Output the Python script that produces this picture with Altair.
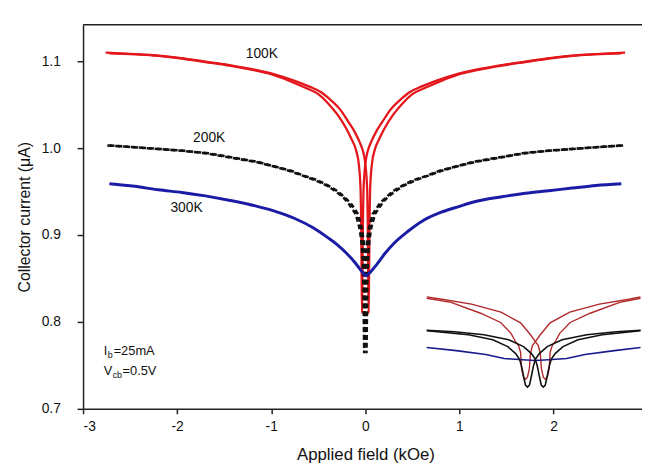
import altair as alt
import pandas as pd

FONT = "Liberation Sans"
RED = "#e3161b"
BLUE = "#1b1ca6"
BLACK = "#111111"

X_TICKS = [-3, -2, -1, 0, 1, 2]
Y_TICKS = [0.7, 0.8, 0.9, 1.0, 1.1]
X_DOMAIN = [-3, 2.94]
Y_DOMAIN = [0.7, 1.142]

# 100K (red) hysteresis loop, sweep down (dip at negative field) and sweep up
RED_DOWN_X = [-2.76, -2.45, -2.2, -1.95, -1.7, -1.45, -1.2, -1.0, -0.8, -0.65, -0.5, -0.4, -0.3, -0.2, -0.15, -0.1, -0.07, -0.05, -0.045, -0.04, -0.035,
              -0.03, -0.025, -0.02, -0.01, 0.0, 0.015, 0.035, 0.065, 0.115, 0.185, 0.265, 0.365, 0.465, 0.6, 0.765, 0.965, 1.165, 1.415, 1.665, 1.915, 2.165, 2.45, 2.72]
RED_DOWN_Y = [1.110, 1.108, 1.106, 1.103, 1.099, 1.095, 1.090, 1.085, 1.077, 1.070, 1.062, 1.052, 1.039, 1.022, 1.011, 0.998, 0.982, 0.950, 0.920, 0.860, 0.810,
              0.860, 0.920, 0.950, 0.970, 0.982, 0.992, 1.000, 1.008, 1.019, 1.031, 1.044, 1.055, 1.064, 1.071, 1.078, 1.085, 1.090, 1.095, 1.099, 1.103, 1.106, 1.108, 1.109]
RED_UP_X = [-2.72, -2.45, -2.165, -1.915, -1.665, -1.415, -1.165, -0.965, -0.765, -0.6, -0.465, -0.365, -0.265, -0.185, -0.115, -0.065, -0.035, -0.015, 0.0, 0.01,
            0.02, 0.025, 0.03, 0.035, 0.04, 0.045, 0.05, 0.07, 0.1, 0.15, 0.2, 0.3, 0.4, 0.5, 0.65, 0.8, 1.0, 1.2, 1.45, 1.7, 1.95, 2.2, 2.45, 2.76]
RED_UP_Y = [1.109, 1.108, 1.106, 1.103, 1.099, 1.095, 1.090, 1.085, 1.078, 1.071, 1.064, 1.055, 1.044, 1.031, 1.019, 1.008, 1.000, 0.992, 0.982, 0.970,
            0.950, 0.920, 0.860, 0.810, 0.860, 0.920, 0.950, 0.982, 0.998, 1.011, 1.022, 1.039, 1.052, 1.062, 1.070, 1.077, 1.085, 1.090, 1.095, 1.099, 1.103, 1.106, 1.108, 1.110]

# 200K (black, dotted) loop
BLK_DOWN_X = [-2.742, -2.45, -2.212, -1.95, -1.692, -1.43, -1.162, -0.98, -0.812, -0.66, -0.532, -0.41, -0.312, -0.24, -0.182, -0.102, -0.062, -0.042, -0.027, -0.02, -0.016, -0.012,
              -0.008, -0.004, 0.003, 0.018, 0.038, 0.078, 0.158, 0.228, 0.288, 0.398, 0.508, 0.648, 0.788, 0.968, 1.138, 1.4, 1.668, 1.93, 2.188, 2.45, 2.718]
BLK_DOWN_Y = [1.003, 1.001, 0.999, 0.997, 0.994, 0.989, 0.984, 0.979, 0.974, 0.968, 0.963, 0.957, 0.950, 0.944, 0.937, 0.924, 0.908, 0.893, 0.870, 0.840, 0.800, 0.764,
              0.800, 0.840, 0.870, 0.893, 0.908, 0.924, 0.937, 0.944, 0.950, 0.957, 0.963, 0.968, 0.974, 0.979, 0.984, 0.989, 0.994, 0.997, 0.999, 1.001, 1.003]
BLK_UP_X = [-2.718, -2.45, -2.188, -1.93, -1.668, -1.4, -1.138, -0.968, -0.788, -0.648, -0.508, -0.398, -0.288, -0.228, -0.158, -0.078, -0.038, -0.018, -0.003, 0.004, 0.008,
            0.012, 0.016, 0.02, 0.027, 0.042, 0.062, 0.102, 0.182, 0.24, 0.312, 0.41, 0.532, 0.66, 0.812, 0.98, 1.162, 1.43, 1.692, 1.95, 2.212, 2.45, 2.742]
BLK_UP_Y = [1.003, 1.001, 0.999, 0.997, 0.994, 0.989, 0.984, 0.979, 0.974, 0.968, 0.963, 0.957, 0.950, 0.944, 0.937, 0.924, 0.908, 0.893, 0.870, 0.840, 0.800,
            0.764, 0.800, 0.840, 0.870, 0.893, 0.908, 0.924, 0.937, 0.944, 0.950, 0.957, 0.963, 0.968, 0.974, 0.979, 0.984, 0.989, 0.994, 0.997, 0.999, 1.001, 1.003]

# 300K (blue)
BLU_X = [-2.72, -2.45, -2.2, -1.95, -1.7, -1.45, -1.15, -0.95, -0.75, -0.55, -0.4, -0.3, -0.2, -0.1, -0.03, 0.01,
         0.05, 0.12, 0.21, 0.3, 0.45, 0.62, 0.8, 1.0, 1.15, 1.45, 1.7, 1.95, 2.2, 2.45, 2.72]
BLU_Y = [0.959, 0.956, 0.952, 0.949, 0.945, 0.940, 0.933, 0.927, 0.919, 0.908, 0.897, 0.889, 0.879, 0.867, 0.857, 0.853,
         0.857, 0.866, 0.879, 0.890, 0.904, 0.917, 0.926, 0.933, 0.938, 0.944, 0.948, 0.951, 0.954, 0.957, 0.959]

# Curve labels
LABELS = ["100K", "200K", "300K"]
LABEL_X = [-1.10, -1.66, -1.90]
LABEL_Y = [1.108, 1.011, 0.931]

# Inset (low-field detail, arbitrary units): field in Oe, signal in a.u.
INSET_X_DOMAIN = [-520.5, 122.7]
INSET_Y_DOMAIN = [0, 353.6]
IN_RED_A_X = [-125, -97, -63, -40, -28, -23, -19.4, -17, -15.9, -13.7, -11.4, -9.1, -6.9, -5.7, -3.4, 0, 5.6, 17, 39.6, 73.6, 107.6, 121]
IN_RED_A_Y = [101.8, 98.0, 88.0, 79.5, 69.5, 62.0, 58.2, 52.0, 37.3, 29.1, 27.3, 29.1, 37.3, 50.9, 58.2, 61.8, 68.2, 79.1, 89.1, 96.4, 100.9, 103.0]
IN_RED_B_X = [-125, -107.6, -73.6, -39.6, -17, -5.6, 0, 3.4, 5.7, 6.9, 9.1, 11.4, 13.7, 15.9, 17, 19.4, 23, 28, 40, 63, 97, 121]
IN_RED_B_Y = [103.0, 100.9, 96.4, 89.1, 79.1, 68.2, 61.8, 58.2, 50.9, 37.3, 29.1, 27.3, 29.1, 37.3, 52.0, 58.2, 62.0, 69.5, 79.5, 88.0, 98.0, 101.8]
IN_BLK_A_X = [-125, -77, -49, -31.8, -22.7, -18.2, -15.9, -13.6, -11.4, -9.1, -6.8, -4.6, -2.3, 0, 4.5, 13.6, 30.7, 59.1, 93, 121]
IN_BLK_A_Y = [72.0, 68.2, 63.6, 57.3, 50.9, 45.5, 39.1, 30.0, 21.8, 20.0, 21.8, 30.0, 39.1, 45.5, 50.9, 57.3, 63.6, 68.2, 70.9, 72.4]
IN_BLK_B_X = [-125, -93, -59.1, -30.7, -13.6, -4.5, 0, 2.3, 4.6, 6.8, 9.1, 11.4, 13.6, 15.9, 18.2, 22.7, 31.8, 49, 77, 121]
IN_BLK_B_Y = [72.4, 70.9, 68.2, 63.6, 57.3, 50.9, 45.5, 39.1, 30.0, 21.8, 20.0, 21.8, 30.0, 39.1, 45.5, 50.9, 57.3, 63.6, 68.2, 72.0]
IN_BLU_X = [-125, -91, -57, -36, -15, 0, 15, 36, 57, 91, 121]
IN_BLU_Y = [56.4, 53.6, 50.0, 46.4, 45.2, 44.5, 45.2, 46.4, 50.0, 53.6, 56.4]

# Conditions text
COND_X = -2.78
IB_Y = 0.766
VCB_Y = 0.744


def frame(xs, ys, branch):
    return pd.DataFrame({"field": xs, "current": ys, "branch": branch})


xs = alt.Scale(domain=X_DOMAIN, nice=False, zero=False)
ys = alt.Scale(domain=Y_DOMAIN, nice=False, zero=False)
x_axis = alt.Axis(values=X_TICKS, labelExpr="'' + datum.value", title="Applied field (kOe)",
                  grid=False, tickSize=5, labelPadding=6, titlePadding=13, titleFontSize=17, titleX=286)
y_axis = alt.Axis(values=Y_TICKS, format=".1f", title="Collector current (μA)",
                  grid=False, tickSize=6, labelPadding=17, titlePadding=9, titleFontSize=16)
X = alt.X("field:Q", scale=xs, axis=x_axis)
Y = alt.Y("current:Q", scale=ys, axis=y_axis)

red_df = pd.concat([frame(RED_DOWN_X, RED_DOWN_Y, "down"), frame(RED_UP_X, RED_UP_Y, "up")])
blk_df = pd.concat([frame(BLK_DOWN_X, BLK_DOWN_Y, "down"), frame(BLK_UP_X, BLK_UP_Y, "up")])
blu_df = frame(BLU_X, BLU_Y, "single")

red = alt.Chart(red_df).mark_line(color=RED, strokeWidth=2.3, interpolate="monotone").encode(x=X, y=Y, detail="branch:N")
blk = alt.Chart(blk_df).mark_line(color=BLACK, strokeWidth=2.6, strokeDash=[5, 3]).encode(x=X, y=Y, detail="branch:N")
blu = alt.Chart(blu_df).mark_line(color=BLUE, strokeWidth=3, interpolate="monotone").encode(x=X, y=Y)

lab_df = pd.DataFrame({"field": LABEL_X, "current": LABEL_Y, "label": LABELS})
labels = alt.Chart(lab_df).mark_text(font=FONT, fontSize=14, color="#111111").encode(x=X, y=Y, text="label:N")

top_df = pd.DataFrame({"current": [Y_DOMAIN[1]]})
top_rule = alt.Chart(top_df).mark_rule(color="#222222", strokeWidth=1.5).encode(y=Y)

ib_df = pd.DataFrame({"field": [COND_X], "current": [IB_Y]})
vcb_df = pd.DataFrame({"field": [COND_X], "current": [VCB_Y]})


def txt(df, s, size, dx=0, dy=0):
    return alt.Chart(df).mark_text(font=FONT, fontSize=size, align="left", baseline="middle",
                                   dx=dx, dy=dy, color="#111111").encode(x=X, y=Y, text=alt.value(s))


cond = [
    txt(ib_df, "I", 13), txt(ib_df, "b", 9, dx=4, dy=4), txt(ib_df, "=25mA", 13, dx=10),
    txt(vcb_df, "V", 13), txt(vcb_df, "cb", 9, dx=9, dy=4), txt(vcb_df, "=0.5V", 13, dx=19),
]

main = alt.layer(red, blk, blu, labels, top_rule, *cond)

IX = alt.X("field:Q", scale=alt.Scale(domain=INSET_X_DOMAIN, nice=False, zero=False), axis=None)
IY = alt.Y("current:Q", scale=alt.Scale(domain=INSET_Y_DOMAIN, nice=False, zero=False), axis=None)
in_red = alt.Chart(pd.concat([frame(IN_RED_A_X, IN_RED_A_Y, "a"), frame(IN_RED_B_X, IN_RED_B_Y, "b")])).mark_line(
    color="#b0282a", strokeWidth=1.4).encode(x=IX, y=IY, detail="branch:N")
in_blk = alt.Chart(pd.concat([frame(IN_BLK_A_X, IN_BLK_A_Y, "a"), frame(IN_BLK_B_X, IN_BLK_B_Y, "b")])).mark_line(
    color="#111111", strokeWidth=1.6).encode(x=IX, y=IY, detail="branch:N")
in_blu = alt.Chart(frame(IN_BLU_X, IN_BLU_Y, "s")).mark_line(color="#1a1a8c", strokeWidth=1.6).encode(x=IX, y=IY)
inset = alt.layer(in_red, in_blu, in_blk)

chart = alt.layer(main, inset).resolve_scale(x="independent", y="independent").properties(
    width=566, height=389,
    padding={"left": 76, "top": 14, "right": 0, "bottom": 56},
    autosize=alt.AutoSizeParams(type="none"),
).configure_view(stroke=None).configure_axis(
    labelFont=FONT, titleFont=FONT, labelFontSize=14,
    labelColor="#111111", titleColor="#111111", titleFontWeight="normal",
    domainColor="#222222", domainWidth=1.5, tickColor="#222222", tickWidth=1.5,
)

chart.save("out.html", embed_options={"renderer": "svg", "actions": False})
